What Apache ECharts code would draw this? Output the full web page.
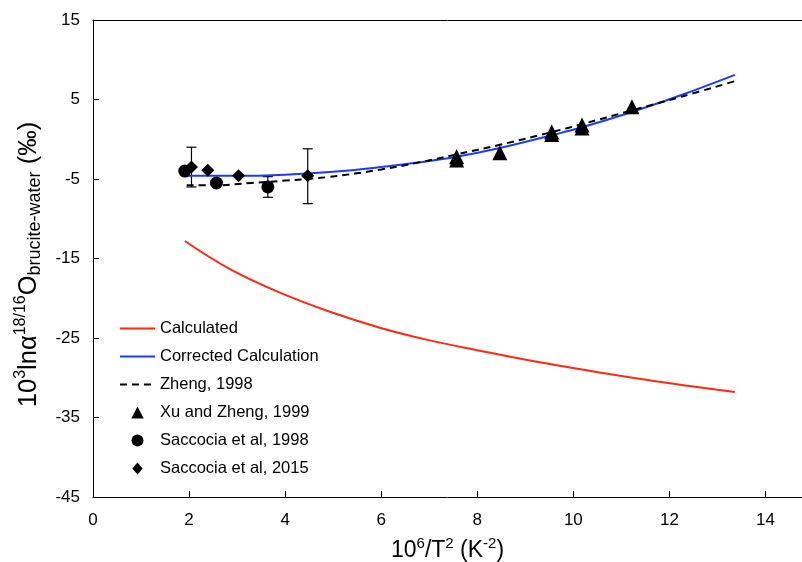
<!DOCTYPE html>
<html>
<head>
<meta charset="utf-8">
<script src="https://cdn.jsdelivr.net/npm/echarts@6/dist/echarts.min.js"></script>
<style>html,body{margin:0;padding:0;background:#fff}#c{width:802px;height:562px}</style>
</head>
<body>
<div id="c"></div>
<script>
// ---- data ----
const calcX = [1.91, 2.84, 3.89, 4.93, 5.97, 7.01, 8.05, 9.24, 10.61, 12.01, 13.36];
const calcY = [-12.8, -16.3, -19.3, -21.7, -23.7, -25.3, -26.6, -28.0, -29.4, -30.7, -31.8];

const corrX = [1.95, 3, 4, 5, 6, 6.8, 7.57, 8.47, 9.55, 10.18, 11.2, 12.22, 13.36];
const corrY = [-4.6, -4.6, -4.45, -4.1, -3.5, -2.9, -2.2, -1.1, 0.5, 1.5, 3.4, 5.5, 8.1];

const zhengX = [1.95, 2.5, 3.3, 4, 4.9, 6, 6.8, 7.57, 8.47, 9.55, 10.18, 11.2, 12.22, 13.36];
const zhengY = [-5.8, -5.8, -5.5, -5.2, -4.75, -3.8, -2.9, -1.9, -0.7, 0.9, 1.9, 3.6, 5.3, 7.3];

const xuX = [7.57, 7.57, 8.47, 9.55, 9.55, 10.18, 10.18, 11.22];
const xuY = [-2.2, -2.6, -1.7, 0.9, 0.6, 1.8, 1.4, 4.1];

const sac98X = [1.91, 2.57, 3.64];
const sac98Y = [-4.0, -5.5, -6.0];

const sac15X = [2.05, 2.39, 3.03, 4.47];
const sac15Y = [-3.5, -3.9, -4.6, -4.6];

const errX = [2.05, 3.64, 4.47];
const errLow = [-6.0, -7.3, -8.1];
const errHigh = [-1.0, -4.7, -1.2];

const xTicks = [0, 2, 4, 6, 8, 10, 12, 14];
const yTicks = [-45, -35, -25, -15, -5, 5, 15];

const names = ['Calculated', 'Corrected Calculation', 'Zheng, 1998',
  'Xu and Zheng, 1999', 'Saccocia et al, 1998', 'Saccocia et al, 2015'];

const pairs = (xs, ys) => xs.map((x, i) => [x, ys[i]]);
const FONT = '"Liberation Sans", Arial, Helvetica, sans-serif';

// legend marker icons (symbol centred inside the 35x12 legend icon box)
const legendIcons = {
  'Xu and Zheng, 1999': 'path://M0,0M35,12M11.3,12L17.5,0L23.7,12Z',
  'Saccocia et al, 1998': 'path://M0,0M35,12M11.5,6A6,6,0,1,1,23.5,6A6,6,0,1,1,11.5,6Z',
  'Saccocia et al, 2015': 'path://M0,0M35,12M12.3,6L17.5,0L22.7,6L17.5,12Z'
};

const chart = echarts.init(document.getElementById('c'), null, {renderer: 'canvas'});
chart.setOption({
  animation: false,
  backgroundColor: '#fff',
  textStyle: {fontFamily: FONT},
  grid: {left: 93, top: 20, right: 0, bottom: 65, containLabel: false, outerBoundsMode: 'none'},
  legend: {
    orient: 'vertical', left: 114, top: 315,
    itemWidth: 35, itemHeight: 12, itemGap: 11,
    textStyle: {fontSize: 16.5, color: '#000', fontFamily: FONT},
    data: names.map((n, i) => i < 3
      ? {name: n, itemStyle: {opacity: 0}}
      : {name: n, icon: legendIcons[n]})
  },
  xAxis: [{
    type: 'value', min: xTicks[0], max: 14.76, interval: 2,
    name: '{m|10}{sup|6}{m|/T}{sup|2}{m| (K}{sup|-2}{m|)}',
    nameLocation: 'middle', nameGap: 39,
    nameTextStyle: {
      rich: {
        m: {fontSize: 23, lineHeight: 30, verticalAlign: 'middle', color: '#000', fontFamily: FONT},
        sup: {fontSize: 15, lineHeight: 15, verticalAlign: 'top', color: '#000', fontFamily: FONT}
      }
    },
    axisLine: {show: true, onZero: false, lineStyle: {color: '#000', width: 1}},
    axisTick: {show: true, inside: true, length: 6, lineStyle: {color: '#000'}},
    axisLabel: {fontSize: 17, color: '#000', margin: 15, showMaxLabel: false, fontFamily: FONT},
    splitLine: {show: false}
  }, {
    type: 'value', position: 'top', min: xTicks[0], max: 14.76, interval: 2,
    axisLine: {show: true, onZero: false, lineStyle: {color: '#000', width: 1}},
    axisTick: {show: false}, axisLabel: {show: false}, splitLine: {show: false}
  }],
  yAxis: {
    type: 'value', min: yTicks[0], max: yTicks[yTicks.length - 1], interval: 10,
    name: '{m|10}{sup|3}{m|lnα}{sup|18/16}{m|O}{sub|brucite-water}{m| (‰)}',
    nameLocation: 'middle', nameGap: 44, nameRotate: 90,
    nameTextStyle: {
      padding: [0, 12, 0, 0],
      rich: {
        m: {fontSize: 25.5, lineHeight: 32, verticalAlign: 'middle', color: '#000', fontFamily: FONT},
        sup: {fontSize: 16, lineHeight: 16, verticalAlign: 'top', color: '#000', fontFamily: FONT},
        sub: {fontSize: 18, lineHeight: 17, verticalAlign: 'bottom', color: '#000', fontFamily: FONT}
      }
    },
    axisLine: {show: true, onZero: false, lineStyle: {color: '#000', width: 1}},
    axisTick: {show: true, inside: true, length: 6, lineStyle: {color: '#000'}},
    axisLabel: {fontSize: 17, color: '#000', margin: 13, fontFamily: FONT},
    splitLine: {show: false}
  },
  series: [
    {name: names[0], type: 'line', data: pairs(calcX, calcY), smooth: 0.4, symbol: 'none',
     lineStyle: {color: '#ff2a12', width: 2}, itemStyle: {color: '#ff2a12'}},
    {name: names[1], type: 'line', data: pairs(corrX, corrY), smooth: 0.4, symbol: 'none',
     lineStyle: {color: '#1a3cff', width: 2}, itemStyle: {color: '#1a3cff'}},
    {name: names[2], type: 'line', data: pairs(zhengX, zhengY), smooth: 0.4, symbol: 'none',
     lineStyle: {color: '#000', width: 2, type: [7, 5]}, itemStyle: {color: '#000'}},
    {name: 'err', type: 'custom', z: 3,
     data: errX.map((x, i) => [x, errLow[i], errHigh[i]]),
     renderItem: function (params, api) {
       const lo = api.coord([api.value(0), api.value(1)]);
       const hi = api.coord([api.value(0), api.value(2)]);
       const w = 5;
       const st = {stroke: '#000', lineWidth: 1.2};
       return {type: 'group', children: [
         {type: 'line', shape: {x1: lo[0], y1: lo[1], x2: hi[0], y2: hi[1]}, style: st},
         {type: 'line', shape: {x1: lo[0] - w, y1: lo[1], x2: lo[0] + w, y2: lo[1]}, style: st},
         {type: 'line', shape: {x1: hi[0] - w, y1: hi[1], x2: hi[0] + w, y2: hi[1]}, style: st}
       ]};
     }},
    {name: names[3], type: 'scatter', z: 4, data: pairs(xuX, xuY), symbol: 'triangle', symbolSize: 15,
     itemStyle: {color: '#000', opacity: 1}},
    {name: names[4], type: 'scatter', z: 4, data: pairs(sac98X, sac98Y), symbol: 'circle', symbolSize: 13,
     itemStyle: {color: '#000', opacity: 1}},
    {name: names[5], type: 'scatter', z: 4, data: pairs(sac15X, sac15Y), symbol: 'diamond', symbolSize: 13,
     itemStyle: {color: '#000', opacity: 1}}
  ]
});
</script>
</body>
</html>
